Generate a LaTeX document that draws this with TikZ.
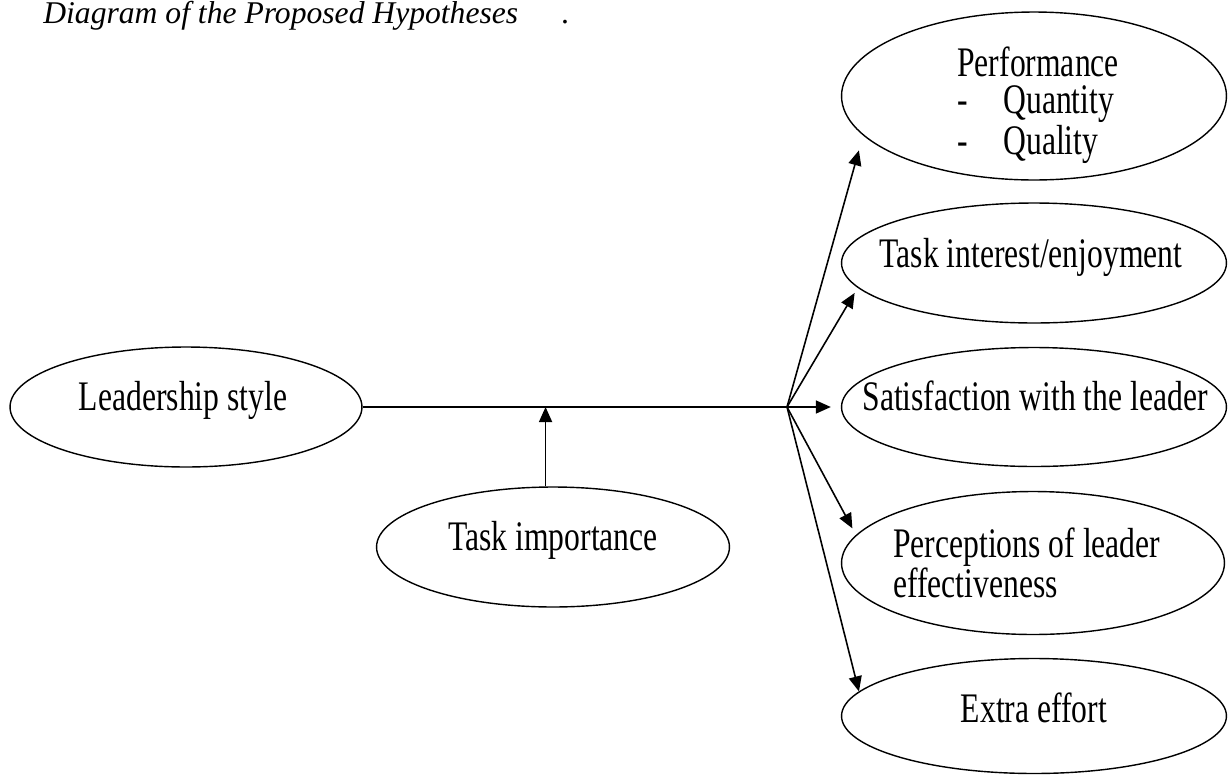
\documentclass[tikz,border=0pt]{standalone}
\usepackage{fontspec}
\setmainfont{Liberation Serif}
\usepackage{tikz}
\usetikzlibrary{arrows.meta}
\usetikzlibrary{shapes.geometric}

\tikzset{
    oval/.style = {ellipse, draw, line width = 0.8pt, inner sep = 0pt},
    lbl/.style = {inner sep = 0pt, yscale = 1.33, transform shape,
        font = \fontsize{18}{16.2}\selectfont},
    link/.style = {line width = 0.9pt, -{Triangle[length = 0.3cm, width = 0.26cm]}},
}

\begin{document}
\begin{tikzpicture}[x = 0.02cm, y = -0.02cm]
    \useasboundingbox (0, 0) rectangle (1228, 775);

    %% title
    \node[inner sep = 0pt, anchor = base west, font = \fontsize{18}{21}\selectfont\itshape] (title)
        at (43, 23) {Diagram of the Proposed Hypotheses};
    \node[inner sep = 0pt, anchor = base, font = \fontsize{18}{21}\selectfont] (stray)
        at (565, 23) {.};

    %% ellipses
    \node[oval, minimum width = 7.04cm, minimum height = 2.4cm] (lead) at (186, 407) {};
    \node[oval, minimum width = 7.06cm, minimum height = 2.4cm] (timp) at (553, 547) {};
    \node[oval, minimum width = 7.7cm, minimum height = 3.36cm] (perf) at (1034, 96) {};
    \node[oval, minimum width = 7.7cm, minimum height = 2.4cm] (tint) at (1034, 263) {};
    \node[oval, minimum width = 7.7cm, minimum height = 2.38cm] (sat) at (1034, 407) {};
    \node[oval, minimum width = 7.66cm, minimum height = 2.86cm] (perc) at (1033, 563) {};
    \node[oval, minimum width = 7.7cm, minimum height = 2.3cm] (xtra) at (1034, 716) {};

    %% labels
    \node[lbl, anchor = base] (leadtxt) at (183, 410) {Leadership style};
    \node[lbl, anchor = base] (timptxt) at (553, 550) {Task importance};
    \node[lbl, anchor = north west, align = left] (perftxt) at (957, 46)
        {Performance\\-\hspace{0.71cm}Quantity\\-\hspace{0.71cm}Quality};
    \node[lbl, anchor = base] (tinttxt) at (1031, 267) {Task interest/enjoyment};
    \node[lbl, anchor = base] (sattxt) at (1035, 410) {Satisfaction with the leader};
    \node[lbl, anchor = north west, align = left] (perctxt) at (893, 527)
        {Perceptions of leader\\effectiveness};
    \node[lbl, anchor = base] (xtratxt) at (1034, 722) {Extra effort};

    %% connectors
    \coordinate (hub) at (787, 407);
    \draw[line width = 0.9pt] (lead.east) -- (hub);
    \draw[link] (timp.97) -- (timp.97 |- hub);
    \draw[link, shorten > = 0.31cm] (hub) -- (perf.193);
    \draw[link, shorten > = 0.12cm] (hub) -- (tint.188);
    \draw[link, shorten > = 0.2cm] (hub) -- (sat.180);
    \draw[link, shorten > = 0.15cm] (hub) -- (perc.171);
    \draw[link] (hub) -- (xtra.172.6);
\end{tikzpicture}
\end{document}
